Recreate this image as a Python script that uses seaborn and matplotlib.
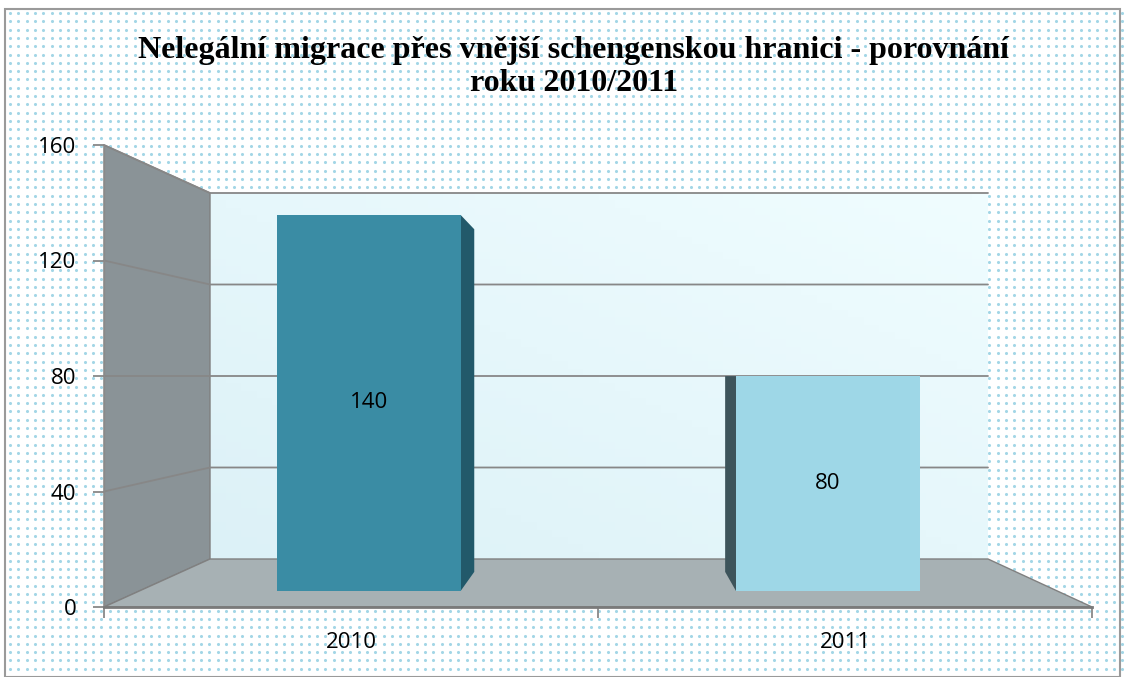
import numpy as np
import matplotlib
matplotlib.use("Agg")
import matplotlib.pyplot as plt
import seaborn as sns
from matplotlib.patches import Polygon, Rectangle
from matplotlib.colors import LinearSegmentedColormap

# data
years = ["2010", "2011"]
values = [140, 80]
y_ticks = [0, 40, 80, 120, 160]
title = "Nelegální migrace přes vnější schengenskou hranici - porovnání\nroku 2010/2011"

W, H = 1125, 677
sns.set_theme(style="white")
plt.rcParams["font.family"] = ["Open Sans", "DejaVu Sans"]
plt.rcParams["text.color"] = "black"
plt.rcParams["xtick.labelcolor"] = "black"
plt.rcParams["ytick.labelcolor"] = "black"

fig = plt.figure(figsize=(W / 100, H / 100), dpi=100)
fig.patch.set_facecolor("white")

# scene axes in pixel coords (y pointing down) for the 3D box decoration
scene = fig.add_axes([0, 0, 1, 1], zorder=0)
scene.set_xlim(0, W)
scene.set_ylim(H, 0)
scene.axis("off")

# dotted paper background + frame
gx, gy = np.meshgrid(np.arange(10, W, 8.3), np.arange(13, H, 8.3))
scene.scatter(gx.ravel(), gy.ravel(), s=5, color="#a3d6e6", linewidths=0)
scene.add_patch(Rectangle((5, 9), W - 10, H - 9, fill=False, ec="#9a9a9a", lw=1.5))

# box corners (front plane / back plane)
fx0, fx1, fy0, fy1 = 104, 1092, 607, 145
bx0, bx1, by0, by1 = 210, 988, 559, 193
vmax = y_ticks[-1]


def front_y(v):
    return fy0 - v * (fy0 - fy1) / vmax


def back_y(v):
    return by0 - v * (by0 - by1) / vmax


# back wall gradient
wall_cmap = LinearSegmentedColormap.from_list("wall", ["#dcf1f7", "#f0fdff"])
grad = np.add.outer(np.linspace(1, 0, 50), np.linspace(0, 1, 50)) / 2
scene.imshow(grad, cmap=wall_cmap, extent=[bx0, bx1, by0, by1], aspect="auto", zorder=1)
scene.set_xlim(0, W)
scene.set_ylim(H, 0)

# side wall and floor
scene.add_patch(Polygon([(fx0, fy1), (bx0, by1), (bx0, by0), (fx0, fy0)],
                        fc="#8a9397", ec="#7f7f7f", lw=1, zorder=1.5))
scene.add_patch(Polygon([(fx0, fy0), (bx0, by0), (bx1, by0), (fx1, fy0)],
                        fc="#a7b1b4", ec="#808080", lw=1, zorder=1.5))

# gridlines on walls
for v in y_ticks[1:]:
    scene.plot([fx0, bx0, bx1], [front_y(v), back_y(v), back_y(v)],
               color="#878787", lw=1.3, zorder=2)

# front axis with ticks
fax = fig.add_axes([fx0 / W, 1 - fy0 / H, (fx1 - fx0) / W, (fy0 - fy1) / H], zorder=1)
fax.set_facecolor("none")
fax.set_ylim(0, vmax)
fax.set_yticks(y_ticks)
fax.set_xlim(0, 2)
fax.set_xticks([0, 1, 2])
fax.set_xticklabels([])
fax.set_xticks([0.5, 1.5], minor=True)
fax.set_xticklabels(years, minor=True)
fax.tick_params(axis="y", direction="out", length=8, width=1.3, color="#888888",
                labelsize=16, pad=12, left=True, labelcolor="black")
fax.tick_params(axis="x", which="major", direction="out", length=8, width=1.3,
                color="#888888", bottom=True)
fax.tick_params(axis="x", which="minor", length=0, labelsize=16, pad=18, labelcolor="black")
for s in ["top", "right"]:
    fax.spines[s].set_visible(False)
fax.spines["bottom"].set_color("#7a7a7a")
fax.spines["bottom"].set_linewidth(2)
fax.spines["left"].set_color("#8a8a8a")
fax.spines["left"].set_linewidth(1)

# bars on the mid-depth plane
bax = fig.add_axes([139.3 / W, 1 - 591 / H, 918 / W, (591 - 161.2) / H], zorder=2)
sns.barplot(x=years, y=values, hue=years, palette=["#3a8ca4", "#9ed7e7"],
            width=0.4, saturation=1, legend=False, linewidth=0, ax=bax)
bax.set_xlim(-0.5, 1.5)
bax.set_ylim(0, vmax)
bax.axis("off")
for c in bax.containers:
    bax.bar_label(c, label_type="center", fontsize=16, color="black")

# bar side faces, projected toward the vanishing point
vp = np.array([614.0, 376.0])
k = 0.911
side_colors = ["#22596a", "#3d545b"]
to_scene = scene.transData.inverted()
for p, col in zip(bax.patches, side_colors):
    x0, y0 = p.get_x(), p.get_y()
    x1, y1 = x0 + p.get_width(), y0 + p.get_height()
    (sx0, sy0), (sx1, sy1) = to_scene.transform(bax.transData.transform([[x0, y0], [x1, y1]]))
    ex = sx1 if sx1 < vp[0] else sx0
    front = np.array([[ex, sy1], [ex, sy0]])
    back = vp + k * (front - vp)
    scene.add_patch(Polygon([front[0], back[0], back[1], front[1]], fc=col, ec="none", zorder=3))

fig.text(574 / W, 1 - 67 / H, title, ha="center", va="center", fontsize=23,
         fontweight="bold", family=["Liberation Serif", "DejaVu Serif"], linespacing=1.2)

fig.savefig("out.png", dpi=100)
